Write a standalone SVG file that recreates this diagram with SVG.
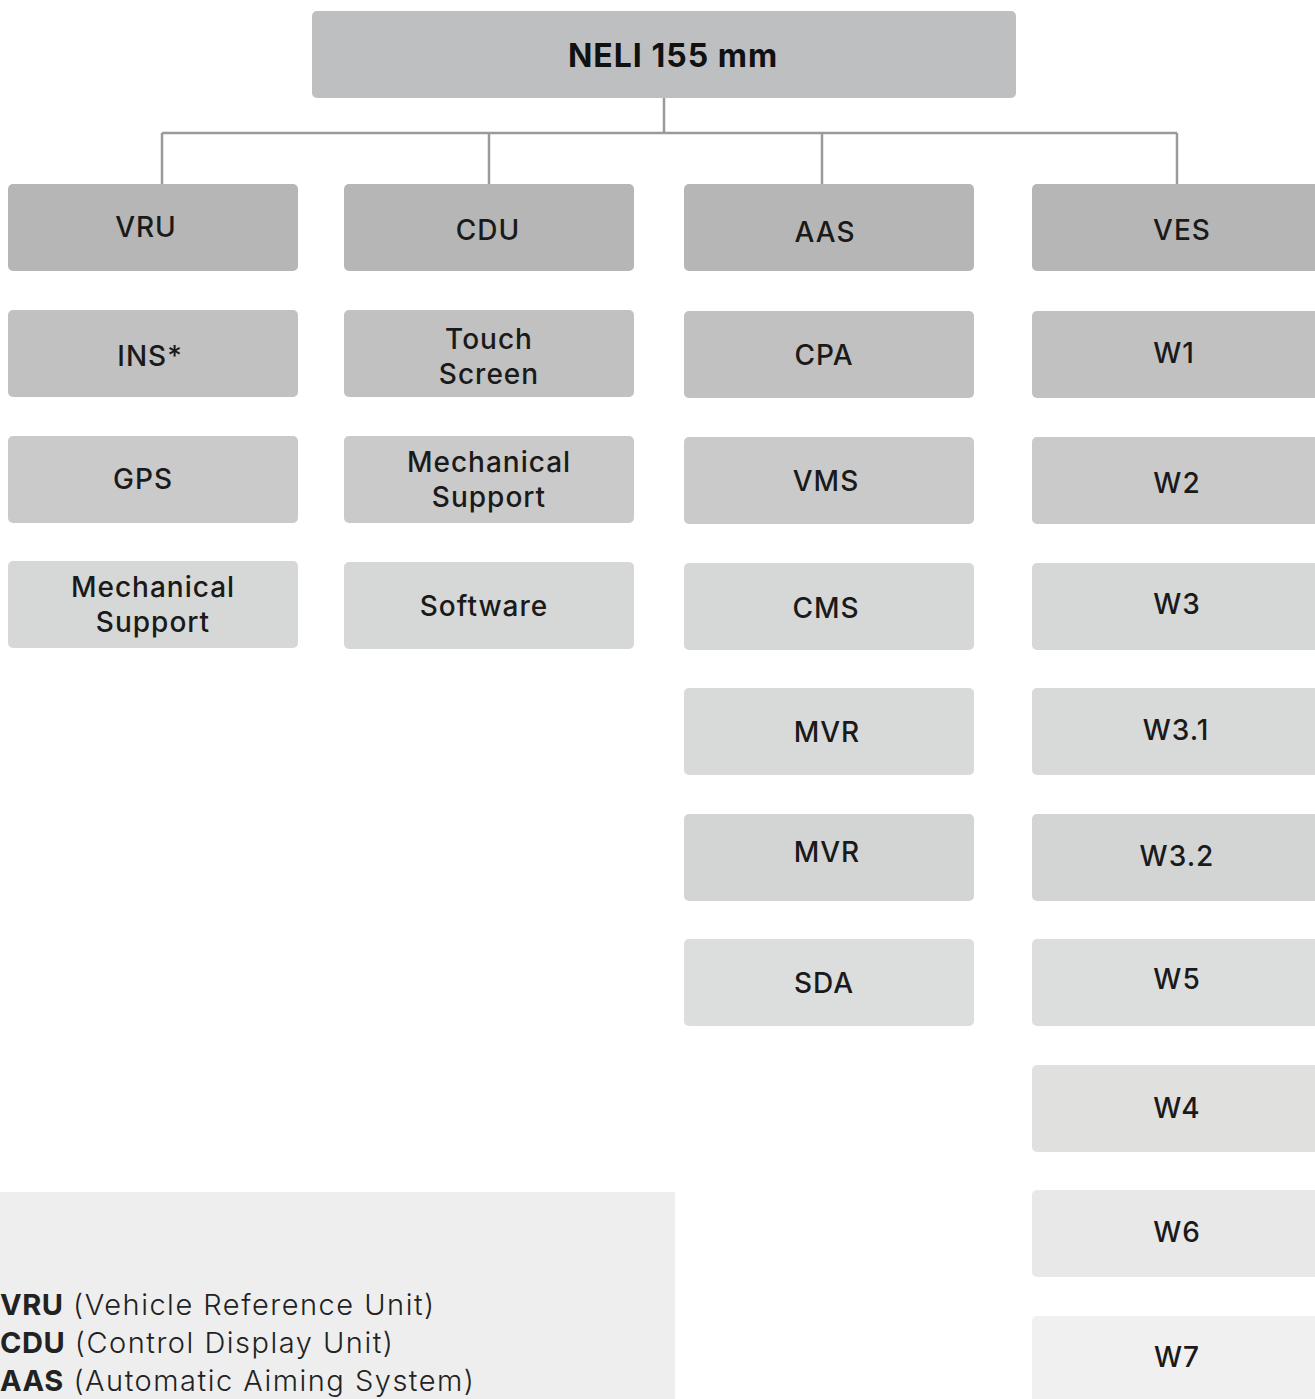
<svg xmlns="http://www.w3.org/2000/svg" width="1315" height="1399" viewBox="0 0 1315 1399">
<style>
.t{font-family:Inter,"Noto Sans","DejaVu Sans",sans-serif;font-size:28px;font-weight:500;letter-spacing:1px;fill:#1a1a1a;text-anchor:middle}
.b{font-family:Inter,"Noto Sans","DejaVu Sans",sans-serif;font-size:32px;font-weight:700;letter-spacing:1px;fill:#111;text-anchor:middle}
.l{font-family:Inter,"Noto Sans","DejaVu Sans",sans-serif;font-size:29px;font-weight:300;letter-spacing:1.5px;fill:#222}
.lb{font-weight:700;letter-spacing:0.5px}
.c{stroke:#9a9a9a;stroke-width:2.5;fill:none}
</style>
<rect width="1315" height="1399" fill="#ffffff"/>
<g id="connectors">
<path class="c" d="M664 98V133M162 133H1177M162 133V184M489 133V184M822 133V184M1177 133V184"/>
</g>
<g id="n-root"><rect x="312" y="11" width="704" height="87" rx="5" fill="#bebfc1"/><text class="b" x="673" y="67">NELI 155 mm</text></g>
<g id="n-vru"><rect x="8" y="184" width="290" height="87" rx="5" fill="#b5b6b5"/><text class="t" x="146" y="237">VRU</text></g>
<g id="n-cdu"><rect x="344" y="184" width="290" height="87" rx="5" fill="#b5b6b5"/><text class="t" x="488" y="240">CDU</text></g>
<g id="n-aas"><rect x="684" y="184" width="290" height="87" rx="5" fill="#b5b6b5"/><text class="t" x="825" y="242">AAS</text></g>
<g id="n-ves"><rect x="1032" y="184" width="295" height="87" rx="5" fill="#b5b6b5"/><text class="t" x="1182" y="240">VES</text></g>
<g id="n-ins"><rect x="8" y="310" width="290" height="87" rx="5" fill="#c1c1c1"/><text class="t" x="150" y="366">INS*</text></g>
<g id="n-touch"><rect x="344" y="310" width="290" height="87" rx="5" fill="#c1c1c1"/><text class="t" x="489" y="349">Touch</text><text class="t" x="489" y="384">Screen</text></g>
<g id="n-cpa"><rect x="684" y="311" width="290" height="87" rx="5" fill="#c1c1c1"/><text class="t" x="824" y="365">CPA</text></g>
<g id="n-w1"><rect x="1032" y="311" width="295" height="87" rx="5" fill="#c1c1c1"/><text class="t" x="1174" y="363">W1</text></g>
<g id="n-gps"><rect x="8" y="436" width="290" height="87" rx="5" fill="#cacaca"/><text class="t" x="143" y="489">GPS</text></g>
<g id="n-mech2"><rect x="344" y="436" width="290" height="87" rx="5" fill="#cacaca"/><text class="t" x="489" y="472">Mechanical</text><text class="t" x="489" y="507">Support</text></g>
<g id="n-vms"><rect x="684" y="437" width="290" height="87" rx="5" fill="#cacaca"/><text class="t" x="826" y="491">VMS</text></g>
<g id="n-w2"><rect x="1032" y="437" width="295" height="87" rx="5" fill="#cacaca"/><text class="t" x="1177" y="493">W2</text></g>
<g id="n-mech1"><rect x="8" y="561" width="290" height="87" rx="5" fill="#d6d7d7"/><text class="t" x="153" y="597">Mechanical</text><text class="t" x="153" y="632">Support</text></g>
<g id="n-soft"><rect x="344" y="562" width="290" height="87" rx="5" fill="#d6d7d7"/><text class="t" x="484" y="616">Software</text></g>
<g id="n-cms"><rect x="684" y="563" width="290" height="87" rx="5" fill="#d6d7d7"/><text class="t" x="826" y="618">CMS</text></g>
<g id="n-w3"><rect x="1032" y="563" width="295" height="87" rx="5" fill="#d6d7d7"/><text class="t" x="1177" y="614">W3</text></g>
<g id="n-mvr1"><rect x="684" y="688" width="290" height="87" rx="5" fill="#d8d9d9"/><text class="t" x="827" y="742">MVR</text></g>
<g id="n-w31"><rect x="1032" y="688" width="295" height="87" rx="5" fill="#d8d9d9"/><text class="t" x="1176" y="740">W3.1</text></g>
<g id="n-mvr2"><rect x="684" y="814" width="290" height="87" rx="5" fill="#d3d4d4"/><text class="t" x="827" y="862">MVR</text></g>
<g id="n-w32"><rect x="1032" y="814" width="295" height="87" rx="5" fill="#d3d4d4"/><text class="t" x="1177" y="866">W3.2</text></g>
<g id="n-sda"><rect x="684" y="939" width="290" height="87" rx="5" fill="#dcdddd"/><text class="t" x="824" y="993">SDA</text></g>
<g id="n-w5"><rect x="1032" y="939" width="295" height="87" rx="5" fill="#dcdddd"/><text class="t" x="1177" y="989">W5</text></g>
<g id="n-w4"><rect x="1032" y="1065" width="295" height="87" rx="5" fill="#e0e0df"/><text class="t" x="1177" y="1118">W4</text></g>
<g id="n-w6"><rect x="1032" y="1190" width="295" height="87" rx="5" fill="#e7e8e7"/><text class="t" x="1177" y="1242">W6</text></g>
<g id="n-w7"><rect x="1032" y="1316" width="295" height="100" rx="5" fill="#f0f0f0"/><text class="t" x="1177" y="1367">W7</text></g>
<g id="legend">
<rect x="0" y="1192" width="675" height="210" fill="#eeeeee"/>
<text class="l" x="0" y="1315"><tspan class="lb">VRU</tspan> (Vehicle Reference Unit)</text>
<text class="l" x="0" y="1353"><tspan class="lb">CDU</tspan> (Control Display Unit)</text>
<text class="l" x="0" y="1391"><tspan class="lb">AAS</tspan> (Automatic Aiming System)</text>
</g>
</svg>
